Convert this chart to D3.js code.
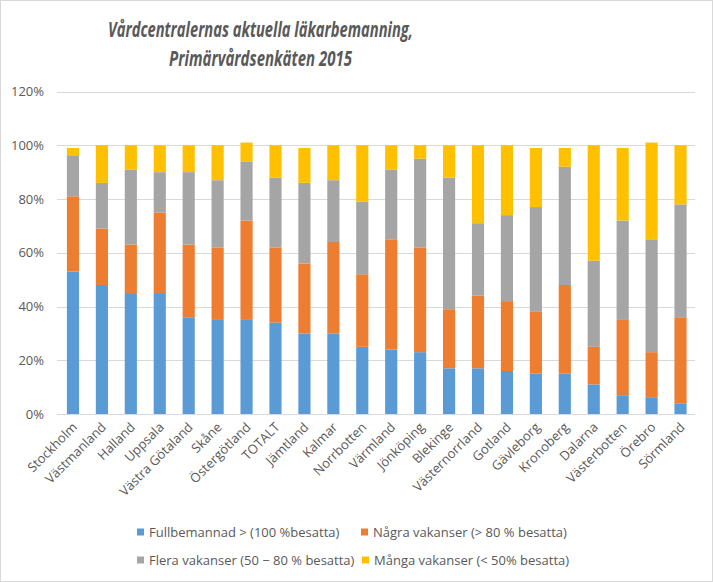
<!DOCTYPE html>
<html>
<head>
<meta charset="utf-8">
<script src="https://cdn.jsdelivr.net/npm/d3@7"></script>
<style>
  html, body { margin: 0; padding: 0; background: #fff; }
  svg { display: block; }
</style>
</head>
<body>
<svg id="chart" width="713" height="582"></svg>
<script>
const categories = ["Stockholm","Västmanland","Halland","Uppsala","Västra Götaland","Skåne","Östergötland","TOTALT","Jämtland","Kalmar","Norrbotten","Värmland","Jönköping","Blekinge","Västernorrland","Gotland","Gävleborg","Kronoberg","Dalarna","Västerbotten","Örebro","Sörmland"];
const fullbemannad = [53,48,45,45,36,35,35,34,30,30,25,24,23,17,17,16,15,15,11,7,6,4];
const nagraVakanser = [28,21,18,30,27,27,37,28,26,34,27,41,39,22,27,26,23,33,14,28,17,32];
const fleraVakanser = [15,17,28,15,27,25,22,26,30,23,27,26,33,49,27,32,39,44,32,37,42,42];
const mangaVakanser = [3,14,9,10,10,13,7,12,13,13,21,9,5,12,29,26,22,7,43,27,36,22];
const seriesNames = ["Fullbemannad > (100 %besatta)","Några vakanser (> 80 % besatta)","Flera vakanser (50 \u2212 80 % besatta)","Många vakanser (< 50% besatta)"];
const seriesColors = ["#5B9BD5","#ED7D31","#A5A5A5","#FFC000"];
const yTicks = [0,20,40,60,80,100,120];
const titleLines = ["Vårdcentralernas  aktuella läkarbemanning,","Primärvårdsenkäten  2015"];

const seriesValues = [fullbemannad, nagraVakanser, fleraVakanser, mangaVakanser];
const keys = ["s0","s1","s2","s3"];
const rows = categories.map((c, i) => {
  const r = { cat: c };
  keys.forEach((k, j) => r[k] = seriesValues[j][i]);
  return r;
});
const stacked = d3.stack().keys(keys)(rows);

const svg = d3.select("#chart");
const W = 713, H = 582;
const font = "'Open Sans', 'Segoe UI', sans-serif";
const textColor = "#595959";

svg.append("rect").attr("x", 0.5).attr("y", 0.5).attr("width", W - 1).attr("height", H - 1)
  .attr("fill", "#fff").attr("stroke", "#d9d9d9");

const plotLeft = 57, plotRight = 695, plotTop = 91.5, plotBottom = 414;
const x = d3.scaleBand().domain(categories).range([plotLeft + 1.5, plotRight]).paddingInner(0.58).paddingOuter(0.29);
const y = d3.scaleLinear().domain([0, 120]).range([plotBottom, plotTop]);

// gridlines
svg.append("g").selectAll("line").data(yTicks).join("line")
  .attr("x1", plotLeft).attr("x2", plotRight)
  .attr("y1", d => Math.round(y(d)) + 0.5).attr("y2", d => Math.round(y(d)) + 0.5)
  .attr("stroke", "#d9d9d9").attr("stroke-width", 1);

// y axis labels
const yAxis = d3.axisLeft(y).tickValues(yTicks).tickFormat(d => d + "%").tickSize(0).tickPadding(0);
const yg = svg.append("g").attr("transform", `translate(${44},0)`).call(yAxis);
yg.select(".domain").remove();
yg.selectAll("text").attr("fill", textColor).style("font-family", font).style("font-size", "13px");

// bars
svg.append("g").selectAll("g").data(stacked).join("g")
  .attr("fill", (d, i) => seriesColors[i])
  .selectAll("rect").data(d => d).join("rect")
  .attr("x", d => x(d.data.cat))
  .attr("width", x.bandwidth())
  .attr("y", d => y(d[1]))
  .attr("height", d => y(d[0]) - y(d[1]));

// x axis labels
const xAxis = d3.axisBottom(x).tickSize(0).tickPadding(0);
const xg = svg.append("g").attr("transform", `translate(0,${plotBottom})`).call(xAxis);
xg.select(".domain").remove();
xg.selectAll("text")
  .attr("fill", textColor).style("font-family", font).style("font-size", "13px")
  .attr("text-anchor", "end")
  .attr("dy", null).attr("y", null)
  .attr("transform", "translate(5,14) rotate(-45)");

// title
svg.append("g").selectAll("text").data(titleLines).join("text")
  .attr("x", 260.5).attr("y", (d, i) => 37 + i * 28.5)
  .attr("text-anchor", "middle")
  .attr("fill", textColor)
  .style("font-family", font).style("font-size", "21.5px")
  .style("font-weight", "bold").style("font-style", "italic")
  .attr("textLength", (d, i) => i === 0 ? 305 : 183)
  .attr("lengthAdjust", "spacingAndGlyphs")
  .text(d => d);

// legend
const legendPos = [[137, 532], [361, 532], [137, 560], [362, 560]];
const lg = svg.append("g").selectAll("g").data(seriesNames).join("g")
  .attr("transform", (d, i) => `translate(${legendPos[i][0]},${legendPos[i][1]})`);
lg.append("rect").attr("x", 0).attr("y", -3.5).attr("width", 7).attr("height", 7)
  .attr("fill", (d, i) => seriesColors[i]);
lg.append("text").attr("x", 12).attr("y", 0).attr("dy", "0.35em")
  .attr("fill", textColor).style("font-family", font).style("font-size", "13px")
  .text(d => d);
</script>
</body>
</html>
